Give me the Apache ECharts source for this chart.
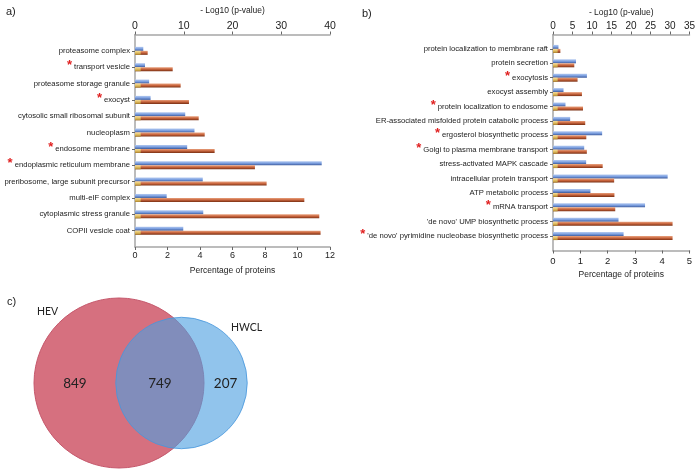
<!DOCTYPE html>
<html><head><meta charset="utf-8">
<script src="https://cdn.jsdelivr.net/npm/echarts@6/dist/echarts.min.js"></script>
<style>html,body{margin:0;padding:0;background:#fff}#c{width:696px;height:471px}</style>
</head><body><div id="c"></div>
<script>
// ---------- Panel a data ----------
const catsA = ['proteasome complex','transport vesicle','proteasome storage granule','exocyst',
  'cytosolic small ribosomal subunit','nucleoplasm','endosome membrane','endoplasmic reticulum membrane',
  'preribosome, large subunit precursor','multi-eIF complex','cytoplasmic stress granule','COPII vesicle coat'];
const logpA = [1.7, 2.05, 2.9, 3.2, 10.3, 12.2, 10.7, 38.3, 13.9, 6.5, 14.0, 9.9];
const pctA  = [0.78, 2.32, 2.81, 3.32, 3.92, 4.29, 4.9, 7.38, 8.1, 10.42, 11.34, 11.42];
const baseA = [0.35,0.35,0.35,0.35,0.35,0.35,0.35,0.35,0.35,0.35,0.35,0.35];
const starA = ['transport vesicle','exocyst','endosome membrane','endoplasmic reticulum membrane'];

// ---------- Panel b data ----------
const catsB = ['protein localization to membrane raft','protein secretion','exocytosis','exocyst assembly',
  'protein localization to endosome','ER-associated misfolded protein catabolic process',
  'ergosterol biosynthetic process','Golgi to plasma membrane transport','stress-activated MAPK cascade',
  'intracellular protein transport','ATP metabolic process','mRNA transport',
  "'de novo' UMP biosynthetic process","'de novo' pyrimidine nucleobase biosynthetic process"];
const logpB = [1.4, 5.9, 8.7, 2.7, 3.2, 4.4, 12.6, 8.0, 8.5, 29.4, 9.6, 23.6, 16.8, 18.1];
const pctB  = [0.27, 0.78, 0.90, 1.06, 1.10, 1.18, 1.22, 1.24, 1.82, 2.24, 2.25, 2.28, 4.38, 4.38];
const baseB = [0.17,0.17,0.17,0.17,0.17,0.17,0.17,0.17,0.17,0.17,0.17,0.17,0.17,0.17];
const starB = ['exocytosis','protein localization to endosome','ergosterol biosynthetic process',
  'Golgi to plasma membrane transport','mRNA transport',"'de novo' pyrimidine nucleobase biosynthetic process"];

// ---------- Panel c data ----------
const vennSets = ['HEV', 'HWCL'];
const vennCounts = [849, 749, 207]; // HEV only, both, HWCL only

// ---------- helpers ----------
const pad = arr => [null, ...arr, null];
const padCats = arr => ['', ...arr, ''];
const grad = stops => new echarts.graphic.LinearGradient(0, 0, 0, 1, stops.map((c, i) => ({offset: i / (stops.length - 1), color: c})));
const BLUE = grad(['#b3c9f0', '#7b9fe0', '#3c5a9c']);
const ORANGE = grad(['#e8a27f', '#c8643c', '#7a3014']);
const YELLOW = grad(['#f6e2a0', '#e0bc60', '#b08a30']);
const FONT = 'Liberation Sans';
const AXC = '#a6a6a6';

function starLabel(stars) {
  return v => stars.indexOf(v) >= 0 ? '{s|*}{t|' + v + '}' : '{t|' + v + '}';
}
function catAxis(grid, cats, stars, show) {
  return {
    type: 'category', gridIndex: grid, data: padCats(cats), inverse: true, boundaryGap: false, show: show,
    axisLine: {lineStyle: {color: AXC, width: 1.5}},
    axisTick: {length: 3, lineStyle: {color: '#666'}, interval: (i, v) => v !== ''},
    axisLabel: {margin: 5, formatter: starLabel(stars), interval: 0,
      rich: {s: {color: '#e02020', fontSize: 13, fontWeight: 'bold', padding: [0, 2, 3, 0], fontFamily: FONT},
             t: {color: '#222', fontSize: 7.7, fontFamily: FONT}}}
  };
}
function valAxis(grid, pos, max, interval, name, gap, fs, margin) {
  return {
    type: 'value', gridIndex: grid, position: pos, min: 0, max: max, interval: interval,
    name: name, nameLocation: 'middle', nameGap: gap, nameMoveOverlap: false,
    nameTextStyle: {fontSize: 8.5, color: '#222', fontFamily: FONT},
    splitLine: {show: false},
    axisLine: {show: true, lineStyle: {color: AXC, width: 1.5}},
    axisTick: {show: true, length: 3, lineStyle: {color: '#666'}},
    axisLabel: {fontSize: fs, color: '#222', margin: margin, fontFamily: FONT}
  };
}
function barSeries(xi, yi, data, color, z) {
  return {type: 'bar', xAxisIndex: xi, yAxisIndex: yi, data: pad(data), barWidth: 4, barGap: 0, z: z || 2,
    itemStyle: {color: color}, silent: true, animation: false};
}

const rHEVunits = Math.sqrt(vennCounts[0] + vennCounts[1]);
const rHWCLunits = Math.sqrt(vennCounts[1] + vennCounts[2]);
const gridBase = {containLabel: false, outerBoundsMode: 'none'};

const option = {
  animation: false,
  title: [
    {text: 'a)', left: 1, top: 1, textStyle: {fontSize: 11, fontWeight: 'normal', color: '#222', fontFamily: FONT}},
    {text: 'b)', left: 357, top: 3, textStyle: {fontSize: 11, fontWeight: 'normal', color: '#222', fontFamily: FONT}},
    {text: 'c)', left: 2, top: 291, textStyle: {fontSize: 11, fontWeight: 'normal', color: '#222', fontFamily: FONT}}
  ],
  grid: [
    Object.assign({left: 135, top: 34.5, width: 195, height: 212.5}, gridBase),
    Object.assign({left: 553, top: 34.5, width: 136.5, height: 216}, gridBase),
    Object.assign({left: 0, top: 290, width: 330, height: 181}, gridBase)
  ],
  xAxis: [
    valAxis(0, 'bottom', 12, 2, 'Percentage of proteins', 19, 9, 4),
    valAxis(0, 'top', 40, 10, '- Log10 (p-value)', 19, 10.5, 3),
    valAxis(1, 'bottom', 5, 1, 'Percentage of proteins', 20, 9.5, 6),
    valAxis(1, 'top', 35, 5, '- Log10 (p-value)', 17, 10, 3),
    {type: 'value', gridIndex: 2, min: 0, max: 330, show: false}
  ],
  yAxis: [
    catAxis(0, catsA, starA, true),
    catAxis(0, catsA, starA, false),
    catAxis(1, catsB, starB, true),
    catAxis(1, catsB, starB, false),
    {type: 'value', gridIndex: 2, min: 0, max: 181, inverse: true, show: false}
  ],
  series: [
    barSeries(1, 0, logpA, BLUE),
    barSeries(0, 0, pctA, ORANGE),
    barSeries(0, 1, catsA.map(() => null), 'transparent'),
    barSeries(0, 1, baseA, YELLOW, 5),
    barSeries(3, 2, logpB, BLUE),
    barSeries(2, 2, pctB, ORANGE),
    barSeries(2, 3, catsB.map(() => null), 'transparent'),
    barSeries(2, 3, baseB, YELLOW, 5),
    {
      type: 'custom', xAxisIndex: 4, yAxisIndex: 4, silent: true, animation: false,
      data: [[119, 93]],
      renderItem: function (params, api) {
        const scale = 2.126, dist = 62.5;
        const c1 = api.coord([api.value(0), api.value(1)]);
        const c2 = api.coord([api.value(0) + dist, api.value(1)]);
        const r1 = api.size([scale * rHEVunits, 0])[0];
        const r2 = api.size([scale * rHWCLunits, 0])[0];
        const numStyle = {fill: '#222', fontSize: 13.5, fontFamily: 'Lato', align: 'center', verticalAlign: 'middle'};
        const nameStyle = {fill: '#222', fontSize: 10.5, fontFamily: 'Lato', align: 'center', verticalAlign: 'middle'};
        const k = Math.SQRT1_2;
        return {type: 'group', children: [
          {type: 'circle', shape: {cx: c1[0], cy: c1[1], r: r1}, style: {fill: '#d6707f', stroke: '#c4566a', lineWidth: 1}},
          {type: 'circle', shape: {cx: c2[0], cy: c2[1], r: r2}, style: {fill: 'rgba(77,160,224,0.62)', stroke: 'rgba(70,150,220,0.8)', lineWidth: 1}},
          {type: 'text', style: Object.assign({text: String(vennCounts[0]), x: ((c1[0] - r1) + (c2[0] - r2)) / 2, y: c1[1] + 1}, numStyle)},
          {type: 'text', style: Object.assign({text: String(vennCounts[1]), x: ((c2[0] - r2) + (c1[0] + r1)) / 2, y: c1[1] + 1}, numStyle)},
          {type: 'text', style: Object.assign({text: String(vennCounts[2]), x: ((c1[0] + r1) + (c2[0] + r2)) / 2, y: c1[1] + 1}, numStyle)},
          {type: 'text', style: Object.assign({text: vennSets[0], x: c1[0] - (r1 + 16) * k, y: c1[1] - (r1 + 16) * k}, nameStyle)},
          {type: 'text', style: Object.assign({text: vennSets[1], x: c2[0] + (r2 + 20) * 0.76, y: c2[1] - (r2 + 20) * 0.65}, nameStyle)}
        ]};
      }
    }
  ]
};
const chart = echarts.init(document.getElementById('c'), null, {renderer: 'canvas'});
chart.setOption(option);
</script></body></html>
